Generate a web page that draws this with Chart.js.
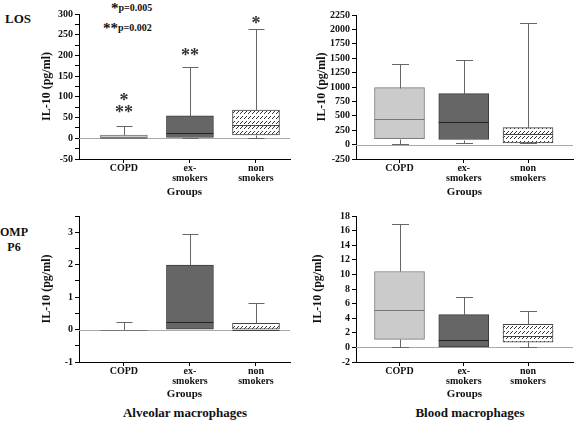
<!DOCTYPE html>
<html>
<head>
<meta charset="utf-8">
<script src="https://cdn.jsdelivr.net/npm/chart.js@4.4.1/dist/chart.umd.min.js"></script>
<style>
  body { margin: 0; background: #fff; width: 574px; height: 424px; position: relative; overflow: hidden; font-family: "Liberation Serif", serif; }
  canvas { position: absolute; }
  .lbl { position: absolute; font-weight: bold; white-space: nowrap; color: #111; line-height: 1; }
  .star { font-size: 15px; vertical-align: -2px; }
</style>
</head>
<body>
<div class="lbl" style="left:5px;top:12px;font-size:13px">LOS</div>
<div class="lbl" style="left:0;top:225px;width:28px;text-align:center;font-size:12px;line-height:15px">OMP<br>P6</div>
<div class="lbl" style="left:111px;top:1px;font-size:10px"><span class="star">*</span>p=0.005</div>
<div class="lbl" style="left:103px;top:21px;font-size:10px"><span class="star">**</span>p=0.002</div>
<div class="lbl" style="left:120px;top:406px;width:130px;text-align:center;font-size:13px">Alveolar macrophages</div>
<div class="lbl" style="left:405px;top:406px;width:130px;text-align:center;font-size:13px">Blood macrophages</div>

<canvas id="c1" width="295" height="203" style="left:0;top:0"></canvas>
<canvas id="c2" width="284" height="203" style="left:290px;top:0"></canvas>
<canvas id="c3" width="295" height="200" style="left:0;top:205px"></canvas>
<canvas id="c4" width="284" height="200" style="left:290px;top:205px"></canvas>

<script>
const groupLabels = ['COPD', ['ex-', 'smokers'], ['non', 'smokers']];

// alveolar macrophages, LOS
const alvLosMin = [0, 0, 0];
const alvLosQ1  = [0, 2, 8];
const alvLosMed = [1, 12, 31];
const alvLosQ3  = [8, 54, 68];
const alvLosMax = [29, 172, 264];
const alvLosStars   = [['*', '**'], ['**'], ['*']];
const alvLosStarsAt = [[100, 70], [209], [285]];

// blood macrophages, LOS
const bldLosMin = [19, 30, 20];
const bldLosQ1  = [105, 88, 30];
const bldLosMed = [452, 400, 192];
const bldLosQ3  = [990, 885, 296];
const bldLosMax = [1405, 1462, 2112];

// alveolar macrophages, OMP P6
const alvOmpMin = [0, 0, 0];
const alvOmpQ1  = [0, 0, 0];
const alvOmpMed = [0, 0.22, 0];
const alvOmpQ3  = [0, 1.99, 0.19];
const alvOmpMax = [0.22, 2.95, 0.83];

// blood macrophages, OMP P6
const bldOmpMin = [0, 0, 0];
const bldOmpQ1  = [1.1, 0, 0.7];
const bldOmpMed = [5.1, 0.97, 1.6];
const bldOmpQ3  = [10.4, 4.5, 3.15];
const bldOmpMax = [16.85, 6.9, 5.0];

// y axis: min, max, tick step, labelled every
const alvLosAxis = [-50, 300, 25, 50];
const bldLosAxis = [-250, 2250, 250, 250];
const alvOmpAxis = [-1, 3.5, 0.5, 1];
const bldOmpAxis = [-2, 18, 2, 2];

const FONT = 'Liberation Serif';

// hatch fill for non smokers
const tile = document.createElement('canvas');
tile.width = 4; tile.height = 5;
const tctx = tile.getContext('2d');
tctx.fillStyle = '#fff';
tctx.fillRect(0, 0, 4, 5);
tctx.strokeStyle = '#333';
tctx.lineWidth = 1;
tctx.beginPath();
tctx.moveTo(0, 4);
tctx.lineTo(3, 1);
tctx.stroke();
const hatch = tctx.createPattern(tile, 'repeat');

const boxFill   = ['#cbcbcb', '#666666', hatch];
const boxBorder = ['#7a7a7a', '#3c3c3c', '#444'];
const medColor  = ['#777', '#222', '#444'];

// whiskers, medians and zero line
const boxPlugin = {
  id: 'boxes',
  beforeDatasetsDraw(chart) {
    const { ctx, chartArea, scales } = chart;
    const y0 = Math.round(scales.y.getPixelForValue(0)) + 0.5;
    ctx.save();
    ctx.strokeStyle = '#a8a8a8';
    ctx.lineWidth = 1;
    ctx.beginPath();
    ctx.moveTo(chartArea.left, y0);
    ctx.lineTo(chartArea.right, y0);
    ctx.stroke();
    ctx.restore();
  },
  afterDatasetsDraw(chart, args, opts) {
    const { ctx, scales } = chart;
    const y = scales.y;
    const meta = chart.getDatasetMeta(0);
    ctx.save();
    ctx.lineWidth = 1;
    meta.data.forEach((bar, i) => {
      const x = Math.round(bar.x) + 0.5;
      const cap = bar.width * 0.34 / 2;
      const py = v => Math.round(y.getPixelForValue(v)) + 0.5;
      ctx.strokeStyle = '#666';
      ctx.beginPath();
      if (opts.max[i] > opts.q3[i]) {
        ctx.moveTo(x, py(opts.q3[i]));
        ctx.lineTo(x, py(opts.max[i]));
        ctx.moveTo(x - cap, py(opts.max[i]));
        ctx.lineTo(x + cap, py(opts.max[i]));
      }
      if (opts.min[i] < opts.q1[i]) {
        ctx.moveTo(x, py(opts.q1[i]));
        ctx.lineTo(x, py(opts.min[i]));
        ctx.moveTo(x - cap, py(opts.min[i]));
        ctx.lineTo(x + cap, py(opts.min[i]));
      }
      ctx.stroke();
      ctx.strokeStyle = medColor[i];
      ctx.beginPath();
      ctx.moveTo(bar.x - bar.width / 2, py(opts.med[i]));
      ctx.lineTo(bar.x + bar.width / 2, py(opts.med[i]));
      ctx.stroke();
    });
    if (opts.stars) {
      ctx.fillStyle = '#333';
      ctx.font = 'bold 18px "' + FONT + '"';
      ctx.textAlign = 'center';
      ctx.textBaseline = 'alphabetic';
      opts.stars.forEach((list, i) => {
        const x = chart.scales.x.getPixelForValue(i);
        list.forEach((s, k) => {
          ctx.fillText(s, x, y.getPixelForValue(opts.starsAt[i][k]) + 9);
        });
      });
    }
    ctx.restore();
  }
};

function makeChart(id, p) {
  const data = p.q1.map((q, i) => ({ x: i, y: [q, p.q3[i]] }));
  return new Chart(document.getElementById(id), {
    type: 'bar',
    data: {
      datasets: [{
        data: data,
        backgroundColor: boxFill,
        borderColor: boxBorder,
        borderWidth: 1,
        borderSkipped: false,
        barThickness: p.bw
      }]
    },
    plugins: [boxPlugin],
    options: {
      responsive: false,
      animation: false,
      layout: { padding: p.pad },
      plugins: {
        legend: { display: false },
        tooltip: { enabled: false },
        boxes: { min: p.min, q1: p.q1, med: p.med, q3: p.q3, max: p.max, stars: p.stars, starsAt: p.starsAt }
      },
      scales: {
        x: {
          type: 'linear',
          offset: false,
          min: p.xr[0],
          max: p.xr[1],
          afterBuildTicks: s => { s.ticks = [0, 1, 2].map(v => ({ value: v })); },
          afterFit: s => { s.height = p.xh; },
          border: { display: true, color: '#000', width: 1 },
          grid: { offset: false, drawOnChartArea: false, drawTicks: true, tickLength: 4, color: '#000' },
          ticks: {
            padding: 0,
            color: '#111',
            font: { family: FONT, size: 10, weight: 'bold', lineHeight: 1 },
            maxRotation: 0,
            autoSkip: false,
            callback: v => groupLabels[v]
          },
          title: {
            display: true,
            text: 'Groups',
            color: '#111',
            padding: { top: 0, bottom: 4 },
            font: { family: FONT, size: 11, weight: 'bold' }
          }
        },
        y: {
          min: p.axis[0],
          max: p.axis[1],
          afterFit: s => { s.width = p.yw; },
          border: { display: true, color: '#000', width: 1 },
          grid: { drawOnChartArea: false, drawTicks: true, tickLength: 4, color: '#000' },
          ticks: {
            stepSize: p.axis[2],
            autoSkip: false,
            padding: 2,
            color: '#111',
            font: { family: FONT, size: 10, weight: 'bold' },
            callback: v => {
              const r = v / p.axis[3];
              return Math.abs(r - Math.round(r)) < 1e-6 ? String(v) : '';
            }
          },
          title: {
            display: true,
            text: 'IL-10 (pg/ml)',
            color: '#111',
            padding: { top: 4, bottom: 0 },
            font: { family: FONT, size: 12, weight: 'bold' }
          }
        }
      }
    }
  });
}

makeChart('c1', {
  min: alvLosMin, q1: alvLosQ1, med: alvLosMed, q3: alvLosQ3, max: alvLosMax,
  stars: alvLosStars, starsAt: alvLosStarsAt,
  axis: alvLosAxis, xr: [-0.68, 2.515], bw: 47,
  pad: { left: 36, top: 14, right: 5, bottom: 0 }, yw: 43, xh: 44
});
makeChart('c2', {
  min: bldLosMin, q1: bldLosQ1, med: bldLosMed, q3: bldLosQ3, max: bldLosMax,
  axis: bldLosAxis, xr: [-0.677, 2.7], bw: 50,
  pad: { left: 21, top: 15, right: 1, bottom: 0 }, yw: 45, xh: 44
});
makeChart('c3', {
  min: alvOmpMin, q1: alvOmpQ1, med: alvOmpMed, q3: alvOmpQ3, max: alvOmpMax,
  axis: alvOmpAxis, xr: [-0.68, 2.515], bw: 47,
  pad: { left: 36, top: 11, right: 5, bottom: 0 }, yw: 43, xh: 43
});
makeChart('c4', {
  min: bldOmpMin, q1: bldOmpQ1, med: bldOmpMed, q3: bldOmpQ3, max: bldOmpMax,
  axis: bldOmpAxis, xr: [-0.677, 2.7], bw: 50,
  pad: { left: 17, top: 11, right: 1, bottom: 0 }, yw: 49, xh: 43
});
</script>
</body>
</html>
